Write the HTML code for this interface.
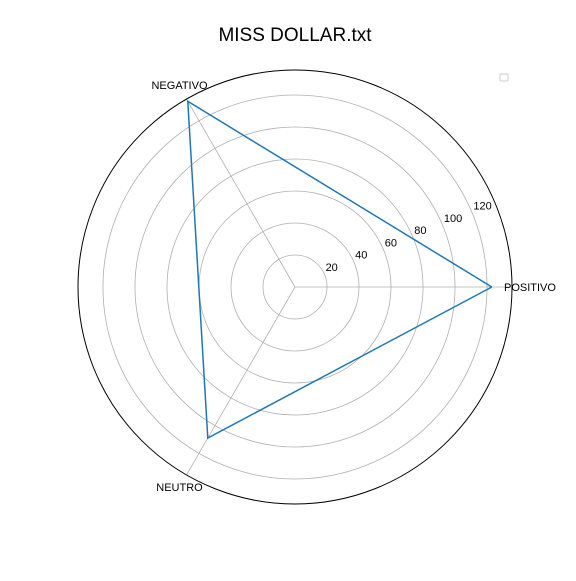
<!DOCTYPE html>
<html><head><meta charset="utf-8"><style>
body{margin:0;background:#fff}
svg{font-family:"Liberation Sans","DejaVu Sans",sans-serif}
</style></head><body>
<svg id="chart" width="576" height="576" viewBox="0 0 576 576">
<rect width="576" height="576" fill="#fff"/>
<text x="295" y="41" text-anchor="middle" font-size="19">MISS DOLLAR.txt</text>
<g id="grid"></g>
<g id="marks"></g>
<rect x="500" y="74" width="8" height="7" rx="1" fill="none" stroke="#ccc"/>
</svg>
<script>
const categories = ["POSITIVO","NEGATIVO","NEUTRO"];
const values = [123, 134, 109];
const ticks = [20,40,60,80,100,120];
const rMax = 135.6;
const cx=295, cy=287, R=217;
const NS="http://www.w3.org/2000/svg";
const grid=document.getElementById('grid'), marks=document.getElementById('marks');
function rs(v){return v/rMax*R;}
function pt(i,v){const a=i*2*Math.PI/categories.length;return [cx+rs(v)*Math.cos(a), cy-rs(v)*Math.sin(a)];}
function mk(tag,attrs,parent){const e=document.createElementNS(NS,tag);for(const k in attrs)e.setAttribute(k,attrs[k]);parent.appendChild(e);return e;}
ticks.forEach(t=>{
  const c=mk('circle',{cx:cx,cy:cy,r:rs(t),fill:'none',stroke:'#b0b0b0','stroke-width':0.8},grid);
  
  
  const a=22.5*Math.PI/180;
  const tx=mk('text',{x:cx+rs(t)*Math.cos(a)+1,y:cy-rs(t)*Math.sin(a)-4,'font-size':11},grid);
  tx.textContent=t;
  
  
});
categories.forEach((c,i)=>{
  const [x,y]=pt(i,rMax);
  const l=mk('line',{x1:cx,y1:cy,x2:x,y2:y,stroke:'#b0b0b0','stroke-width':0.8},grid);
  
  
  const a=i*2*Math.PI/categories.length;
  const lx=cx+(R+14)*Math.cos(a), ly=cy-(R+14)*Math.sin(a);
  const t=mk('text',{x:i==0?lx-22:lx,y:i==0?ly+4:(i==1?ly+2:ly+4),'font-size':11,'text-anchor':i==0?'start':'middle'},grid);
  t.textContent=c;
  
  
});
const o=mk('circle',{cx:cx,cy:cy,r:R,fill:'none',stroke:'#000','stroke-width':1},grid);


const pts=values.map((v,i)=>pt(i,v).join(','));
pts.push(pts[0]);
const p=mk('polyline',{points:pts.join(' '),fill:'none',stroke:'#1f77b4','stroke-width':1.5},marks);


</script>
</body></html>
